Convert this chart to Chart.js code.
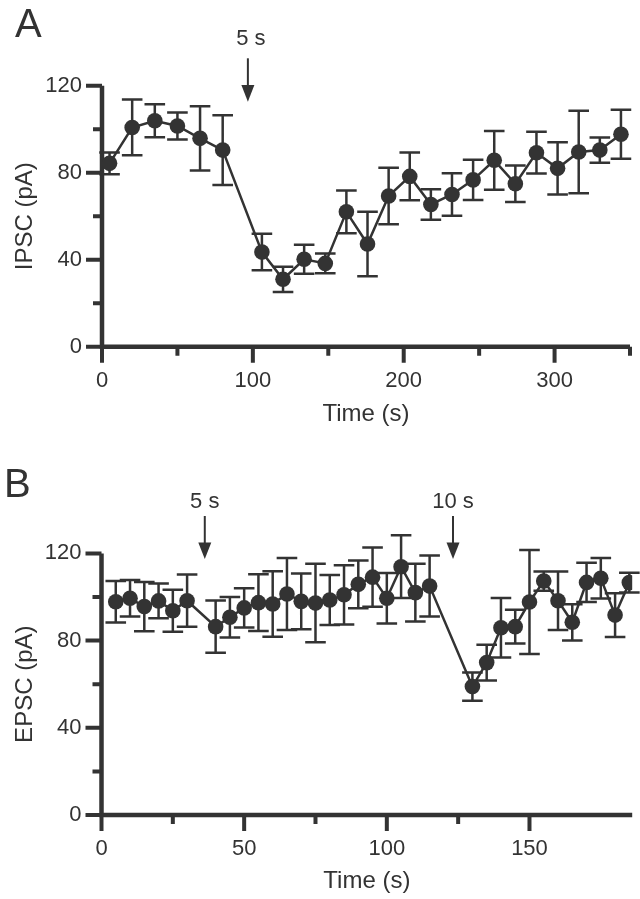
<!DOCTYPE html>
<html><head><meta charset="utf-8">
<script src="https://cdn.jsdelivr.net/npm/chart.js@4.4.1/dist/chart.umd.min.js"></script>
<style>
html,body{margin:0;padding:0;background:#fff;}
#wrapA{position:absolute;left:0;top:0;width:640px;height:450px;}
#wrapB{position:absolute;left:0;top:450px;width:640px;height:449px;}
canvas{display:block;}
</style></head><body>
<div id="wrapA"><canvas id="cA" width="640" height="450"></canvas></div>
<div id="wrapB"><canvas id="cB" width="640" height="449"></canvas></div>
<script>
// ---- Panel A data (IPSC) ----
const timeA = [5, 20, 35, 50, 65, 80, 106, 120, 134, 148, 162, 176, 190, 204, 218, 232, 246, 260, 274, 288, 302, 316, 330, 344];
const ipscMean = [84.3, 100.8, 103.9, 101.5, 95.8, 90.4, 43.5, 31, 40.2, 38.3, 62, 47.2, 69.3, 78.3, 65.4, 70, 76.7, 85.7, 74.9, 89.2, 82, 89.5, 90.4, 97.7];
const ipscErr = [5, 12.8, 7.6, 6.2, 14.8, 16, 8.4, 5.8, 6.7, 4.5, 9.8, 14.8, 13, 11, 7, 9.8, 9.2, 13.5, 8.4, 9.6, 12, 19, 5.8, 11.3];
const xLabelsA = [0, 100, 200, 300];
const stimA = [96.7];
const stimLabelsA = ['5 s'];

// ---- Panel B data (EPSC) ----
const timeB = [5, 10, 15, 20, 25, 30, 40, 45, 50, 55, 60, 65, 70, 75, 80, 85, 90, 95, 100, 105, 110, 115, 130, 135, 140, 145, 150, 155, 160, 165, 170, 175, 180, 185];
const epscMean = [97.8, 99.4, 95.6, 98.2, 93.7, 98.3, 86.4, 90.7, 95, 97.4, 96.8, 101.4, 98, 97.2, 98.6, 101, 105.8, 109.1, 99.4, 113.9, 102, 105, 58.9, 69.9, 85.9, 86.4, 97.7, 107.3, 98.3, 88.4, 106.7, 108.6, 91.7, 106.6];
const epscErr = [9.5, 8.4, 11.3, 8, 9.6, 12, 12, 9.3, 9, 13, 15, 16.5, 12.8, 18, 11.5, 13.6, 11, 13.6, 11.6, 14.4, 13.2, 14, 6.5, 8.2, 13.6, 7.7, 23.9, 4.4, 13.4, 8.3, 9, 9.3, 10, 4.5];
const xLabelsB = [0, 50, 100, 150];
const stimB = [36.2, 123.2];
const stimLabelsB = ['5 s', '10 s'];

const yLabels = [0, 40, 80, 120];

const FONT = "'Liberation Sans', Arial, Helvetica, sans-serif";
const INK = '#333333';

function panelPlugin(o) {
  return {
    id: 'panel' + o.letter,
    beforeDatasetsDraw(chart) {
      const {ctx, scales: {x, y}} = chart;
      const xl = x.getPixelForValue(x.min), xr = x.getPixelForValue(x.max);
      const yb = y.getPixelForValue(0), yt = y.getPixelForValue(y.max);
      ctx.save();
      ctx.strokeStyle = INK;
      ctx.lineWidth = 4.5;
      ctx.lineCap = 'butt';
      ctx.beginPath();
      ctx.moveTo(xl, yt); ctx.lineTo(xl, yb + 2.25);
      ctx.moveTo(xl - 2.25, yb); ctx.lineTo(xr, yb);
      ctx.stroke();
      ctx.lineWidth = 4;
      ctx.beginPath();
      y.ticks.forEach(t => {
        if (t.value % o.yMinor !== 0) return;
        const len = (t.value % o.yMajor === 0) ? 16 : 9;
        const py = y.getPixelForValue(t.value);
        ctx.moveTo(xl - len, py); ctx.lineTo(xl, py);
      });
      x.ticks.forEach(t => {
        if (t.value % o.xMinor !== 0) return;
        const len = (t.value % o.xMajor === 0) ? 16 : 9;
        const px = x.getPixelForValue(t.value);
        ctx.moveTo(px, yb); ctx.lineTo(px, yb + len);
      });
      ctx.stroke();
      // error bars
      ctx.lineWidth = 2.5;
      ctx.beginPath();
      o.t.forEach((tv, i) => {
        const px = x.getPixelForValue(tv);
        const p1 = y.getPixelForValue(o.m[i] + o.e[i]);
        const p2 = y.getPixelForValue(o.m[i] - o.e[i]);
        ctx.moveTo(px, p1); ctx.lineTo(px, p2);
        ctx.moveTo(px - 10.3, p1); ctx.lineTo(px + 10.3, p1);
        ctx.moveTo(px - 10.3, p2); ctx.lineTo(px + 10.3, p2);
      });
      ctx.stroke();
      ctx.restore();
    },
    afterDraw(chart) {
      const {ctx, scales: {x}} = chart;
      ctx.save();
      ctx.fillStyle = INK;
      ctx.strokeStyle = INK;
      o.stim.forEach((sv, i) => {
        const ax = x.getPixelForValue(sv);
        ctx.lineWidth = 2;
        ctx.beginPath();
        ctx.moveTo(ax, o.arrow.top); ctx.lineTo(ax, o.arrow.head + 1);
        ctx.stroke();
        ctx.beginPath();
        ctx.moveTo(ax - 6.5, o.arrow.head);
        ctx.lineTo(ax + 6.5, o.arrow.head);
        ctx.lineTo(ax, o.arrow.tip);
        ctx.closePath();
        ctx.fill();
        ctx.font = '22px ' + FONT;
        ctx.textAlign = 'center';
        ctx.textBaseline = 'alphabetic';
        ctx.fillText(o.stimLabels[i], ax + o.textDx, o.arrow.text);
      });
      ctx.font = '40px ' + FONT;
      ctx.textAlign = 'left';
      ctx.textBaseline = 'alphabetic';
      ctx.fillText(o.letter, o.letterX, o.letterY);
      ctx.restore();
    }
  };
}

function makeChart(id, o) {
  return new Chart(document.getElementById(id), {
    type: 'line',
    data: {
      datasets: [{
        data: o.t.map((tv, i) => ({x: tv, y: o.m[i]})),
        borderColor: INK,
        borderWidth: 2.5,
        pointRadius: 7.8,
        pointBackgroundColor: INK,
        pointBorderWidth: 0,
        pointHoverRadius: 7.8,
        tension: 0,
        fill: false
      }]
    },
    options: {
      responsive: false,
      animation: false,
      devicePixelRatio: 1,
      events: [],
      layout: {padding: {top: o.padTop, right: o.padRight, bottom: 0, left: 0}},
      plugins: {legend: {display: false}, tooltip: {enabled: false}},
      scales: {
        x: {
          type: 'linear', min: 0, max: o.xMax,
          border: {display: false},
          grid: {display: true, drawOnChartArea: false, drawTicks: true, tickLength: 21,
                 tickColor: 'rgba(0,0,0,0)', color: 'rgba(0,0,0,0)'},
          ticks: {
            stepSize: o.xMinor, autoSkip: false, maxRotation: 0, padding: 0,
            color: INK, font: {size: 22, family: FONT},
            callback: v => o.xLabels.includes(v) ? String(v) : ''
          },
          title: {display: true, text: 'Time (s)', color: INK,
                  font: {size: 24, family: FONT}, padding: {top: 0, bottom: o.xTitlePad}},
          afterFit: s => { s.height = o.xHeight; }
        },
        y: {
          min: 0, max: 120,
          border: {display: false},
          grid: {display: false, drawTicks: false},
          ticks: {
            stepSize: 20, autoSkip: false, padding: 20,
            color: INK, font: {size: 22, family: FONT},
            callback: v => yLabels.includes(v) ? String(v) : ''
          },
          title: {display: true, text: o.yTitle, color: INK,
                  font: {size: 24, family: FONT}, padding: {top: 10.6, bottom: 0}},
          afterFit: s => { s.width = o.yWidth; }
        }
      }
    },
    plugins: [panelPlugin(o)]
  });
}

makeChart('cA', {
  letter: 'A', letterX: 15, letterY: 37,
  t: timeA, m: ipscMean, e: ipscErr,
  xMax: 350, xMinor: 50, xMajor: 100, yMinor: 20, yMajor: 40,
  xLabels: xLabelsA, yTitle: 'IPSC (pA)',
  padTop: 85.7, padRight: 10, xHeight: 103.3, yWidth: 102, xTitlePad: 21.5,
  stim: stimA, stimLabels: stimLabelsA, textDx: 3,
  arrow: {top: 58.3, head: 85, tip: 101.7, text: 45}
});

makeChart('cB', {
  letter: 'B', letterX: 4, letterY: 46.7,
  t: timeB, m: epscMean, e: epscErr,
  xMax: 186, xMinor: 25, xMajor: 50, yMinor: 20, yMajor: 40,
  xLabels: xLabelsB, yTitle: 'EPSC (pA)',
  padTop: 103.4, padRight: 7.6, xHeight: 84, yWidth: 101.5, xTitlePad: 3.6,
  stim: stimB, stimLabels: stimLabelsB, textDx: 0,
  arrow: {top: 66, head: 92.5, tip: 109, text: 58.3}
});
</script>
</body></html>
